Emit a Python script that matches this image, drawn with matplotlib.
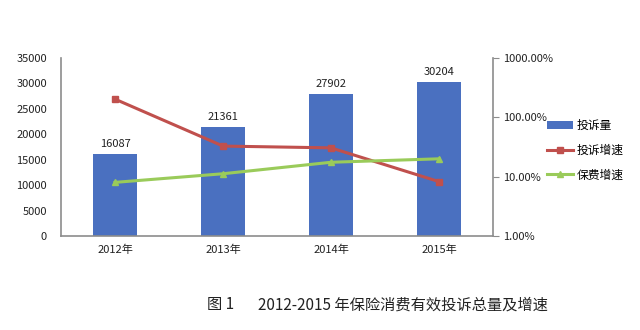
import numpy as np
import matplotlib.pyplot as plt
from matplotlib.ticker import FuncFormatter, FixedLocator, NullLocator

plt.rcParams['font.family'] = ['Noto Sans CJK SC', 'DejaVu Sans']

years = ['2012年', '2013年', '2014年', '2015年']
complaints = [16087, 21361, 27902, 30204]
complaint_growth = [2.03, 0.328, 0.306, 0.0825]
premium_growth = [0.0801, 0.112, 0.1749, 0.20]

blue = '#4a70c0'
red = '#c0504d'
green = '#9acb5a'
axc = '#8c8c8c'

fig = plt.figure(figsize=(6.4, 3.3), dpi=100)
ax = fig.add_axes([0.0953, 0.285, 0.675, 0.539])
x = np.arange(len(years))

bars = ax.bar(x, complaints, width=0.4, color=blue, zorder=2, label='投诉量')
for xi, v in zip(x, complaints):
    ax.text(xi, v + 1100, str(v), ha='center', va='bottom', fontsize=8, color='#222222')

ax.set_xlim(-0.5, 3.5)
ax.set_ylim(0, 35000)
ax.set_yticks(range(0, 35001, 5000))
ax.set_xticks(x)
ax.set_xticklabels(years, fontsize=8, color='#222222')
ax.tick_params(axis='y', labelsize=8, colors='#222222', length=0, pad=10)
ax.tick_params(axis='x', length=0, pad=6)
for s in ['top', 'right']:
    ax.spines[s].set_visible(False)
for s in ['left', 'bottom']:
    ax.spines[s].set_color(axc)
    ax.spines[s].set_linewidth(1.2)

ax2 = ax.twinx()
ax2.set_yscale('log')
ax2.set_ylim(0.01, 10)
l1, = ax2.plot(x, complaint_growth, color=red, lw=2.2, marker='s', ms=4, label='投诉增速')
l2, = ax2.plot(x, premium_growth, color=green, lw=2.2, marker='^', ms=4, label='保费增速')
ax2.yaxis.set_major_locator(FixedLocator([0.01, 0.1, 1, 10]))
ax2.yaxis.set_minor_locator(NullLocator())
ax2.yaxis.set_major_formatter(FuncFormatter(lambda v, p: '%.2f%%' % (v * 100)))
ax2.tick_params(axis='y', labelsize=8, colors='#222222', length=4, color=axc, pad=3)
for s in ['top', 'left', 'bottom']:
    ax2.spines[s].set_visible(False)
ax2.spines['right'].set_color(axc)
ax2.spines['right'].set_linewidth(1.2)

fig.legend([bars, l1, l2], ['投诉量', '投诉增速', '保费增速'], loc='center left',
           bbox_to_anchor=(0.848, 0.545), frameon=False, fontsize=8.5,
           handlelength=2.2, handletextpad=0.3, labelspacing=1.0, borderaxespad=0)

fig.text(0.323, 0.076, '图 1', fontsize=11, ha='left', va='center', color='#222222')
fig.text(0.403, 0.076, '2012-2015 年保险消费有效投诉总量及增速', fontsize=11,
         ha='left', va='center', color='#222222')

fig.savefig('out.png', dpi=100)
